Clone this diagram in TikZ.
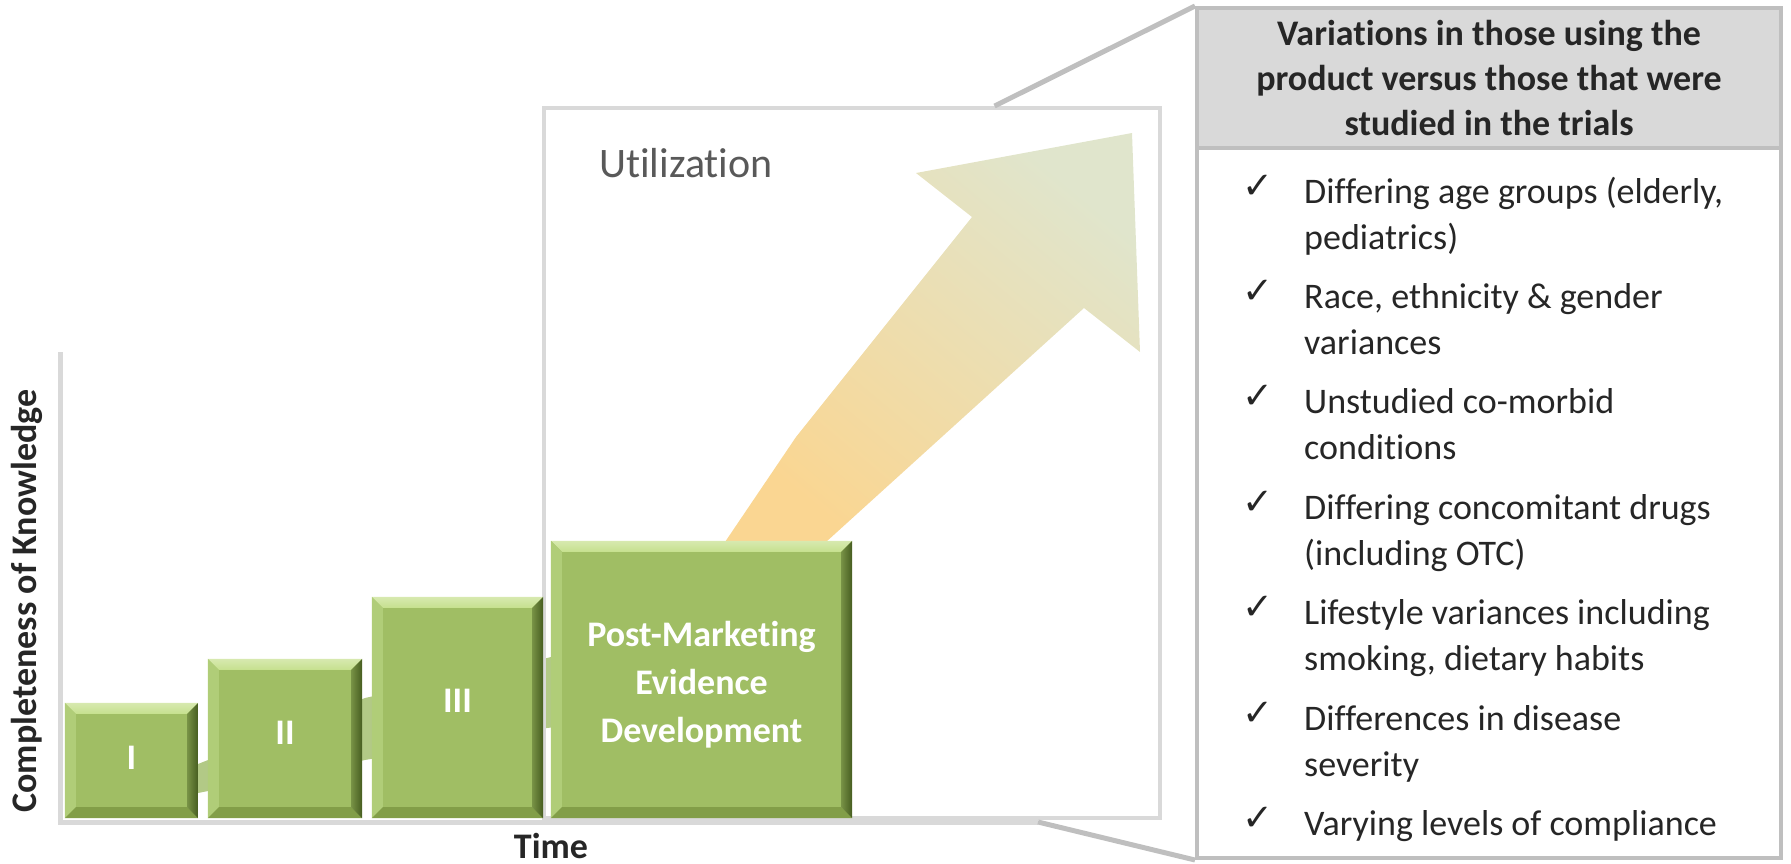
\documentclass[tikz,border=0pt]{standalone}
\usepackage{fontspec}
\setmainfont{Carlito}[Ligatures=NoCommon]
\newfontfamily\symfont{DejaVu Sans}
\usepackage{xcolor}
\usepackage{tikz}
\usetikzlibrary{positioning,calc}
\definecolor{PhaseGreen}{RGB}{160,190,100}
\definecolor{BevelLight}{RGB}{198,224,142}
\definecolor{BevelDark}{RGB}{70,92,32}
\definecolor{BevelLow}{RGB}{130,158,72}
\definecolor{BevelLeft}{RGB}{176,205,120}
\definecolor{FrameGray}{RGB}{217,217,217}
\definecolor{LineGray}{RGB}{191,191,191}
\definecolor{TextDark}{RGB}{38,38,38}
\definecolor{TextGray}{RGB}{89,89,89}
\definecolor{ArrowLow}{RGB}{250,214,146}
\definecolor{ArrowHigh}{RGB}{224,229,204}
\definecolor{BandGreen}{RGB}{178,201,134}

\begin{document}
\begin{tikzpicture}[x=1pt, y=-1pt,
                % phase boxes (green)
                phasenode/.style={rectangle, fill=PhaseGreen, text=white, inner sep=0pt, align=center, font=\fontsize{36}{48}\selectfont\bfseries},
                % frames and lines
                framebox/.style={rectangle, draw=FrameGray, line width=4pt, fill=none, inner sep=0pt},
                axisline/.style={draw=FrameGray, line width=5pt},
                callout/.style={draw=LineGray, line width=5pt},
                % right panel
                panelbox/.style={rectangle, draw=LineGray, line width=4pt, fill=white, inner sep=0pt},
                headbox/.style={rectangle, draw=LineGray, line width=4pt, fill=FrameGray, inner sep=0pt, text=TextDark, align=center, font=\fontsize{36}{45}\selectfont\bfseries},
                itemtext/.style={inner sep=0pt, text=TextDark, font=\fontsize{36}{46}\selectfont},
                checkbox/.style={inner sep=0pt, text=TextDark, font=\symfont\bfseries\fontsize{37}{37}\selectfont},
                % labels
                axislabel/.style={inner sep=0pt, text=TextDark, font=\fontsize{36}{40}\selectfont\bfseries},
                utillabel/.style={inner sep=0pt, text=TextGray, font=\fontsize{42}{46}\selectfont}
            ]
                \useasboundingbox (0,0) rectangle (1791,864);

                % --- HIDDEN BAND BEHIND PHASES ---
                \fill[BandGreen] (120,800) -- (198,764) -- (365,698) -- (547,658) -- (600,645)
                    -- (600,722) -- (547,728) -- (365,760) -- (198,793) -- (120,815) -- cycle;

                % --- UTILIZATION FRAME ---
                \node[framebox, minimum width=616pt, minimum height=710pt] (util) at (852,463) {};
                \node[utillabel, anchor=base west] (utillab) at (599,177) {Utilization};

                % big arrow
                \shade[top color=ArrowHigh, bottom color=ArrowLow, shading angle=-40]
                    (725,542) -- (796,437) -- (972,217) -- (916,173) -- (1132,133)
                    -- (1140,352) -- (1084,308) -- (826,542) -- cycle;

                % --- AXES ---
                \coordinate (ytop) at (60,352);
                \coordinate (origin) at (60,822);
                \coordinate (xend) at (1038,822);
                \draw[axisline] (ytop) -- (origin) -- (xend);

                % --- PHASES ---
                \node[phasenode, minimum width=133pt, minimum height=115pt] (ph1) at (131.5,760.5) {\raisebox{3pt}[\height][\depth]{I}};
                \node[phasenode, minimum width=154pt, minimum height=159pt] (ph2) at (285,738.5) {\raisebox{6pt}[\height][\depth]{II}};
                \node[phasenode, minimum width=171pt, minimum height=221pt] (ph3) at (457.5,707.5) {\raisebox{7pt}[\height][\depth]{III}};
                \node[phasenode, minimum width=301pt, minimum height=277pt] (ph4) at (701.5,679.5)
                    {\raisebox{-5pt}[\height][\depth]{\begin{tabular}{@{}c@{}}Post-Marketing\\Evidence\\Development\end{tabular}}};

                % bevel edges
                \foreach \n in {ph1,ph2,ph3,ph4}{
                    \shade[top color=BevelLight!70!white, bottom color=BevelLight] (\n.north west) -- (\n.north east)
                        -- ([shift={(-11pt,-11pt)}]\n.north east) -- ([shift={(11pt,-11pt)}]\n.north west) -- cycle;
                    \fill[BevelLeft] (\n.north west) -- ([shift={(11pt,-11pt)}]\n.north west)
                        -- ([shift={(11pt,11pt)}]\n.south west) -- (\n.south west) -- cycle;
                    \fill[BevelLow] (\n.south west) -- (\n.south east)
                        -- ([shift={(-11pt,11pt)}]\n.south east) -- ([shift={(11pt,11pt)}]\n.south west) -- cycle;
                    \shade[left color=BevelDark!45!PhaseGreen, right color=BevelDark] (\n.north east) -- (\n.south east)
                        -- ([shift={(-11pt,11pt)}]\n.south east) -- ([shift={(-11pt,-11pt)}]\n.north east) -- cycle;
                }

                % axis labels
                \node[axislabel, rotate=90] (ylab) at (27,601) {Completeness of Knowledge};
                \node[axislabel, anchor=base] (tlab) at (551,858) {Time};

                % --- RIGHT PANEL ---
                \coordinate (utiltop) at ($(util.north west)!0.73!(util.north east)$);
                \node[panelbox, minimum width=584pt, minimum height=850pt] (panel) at (1489,433) {};
                \draw[callout] (utiltop) -- (panel.north west);
                \draw[callout] (xend) -- (panel.south west);
                \node[headbox, anchor=north, minimum width=584pt, minimum height=140pt] (head) at (panel.north)
                    {Variations in those using the\\product versus those that were\\studied in the trials};

                % bullet items
                \foreach \txt [count=\i] in {{Differing age groups (elderly,\\pediatrics)},
                                             {Race, ethnicity \& gender\\variances},
                                             {Unstudied co-morbid\\conditions},
                                             {Differing concomitant drugs\\(including OTC)},
                                             {Lifestyle variances including\\smoking, dietary habits},
                                             {Differences in disease\\severity},
                                             {Varying levels of compliance}}{
                    \node[checkbox, anchor=base] (chk\i) at (1258, {198+105.4*(\i-1)}) {✓};
                    \node[itemtext, anchor=base west] (item\i) at (1304, {203+105.4*(\i-1)}) {\parbox[t]{470pt}{\raggedright\txt}};
                }

            \end{tikzpicture}
\end{document}
